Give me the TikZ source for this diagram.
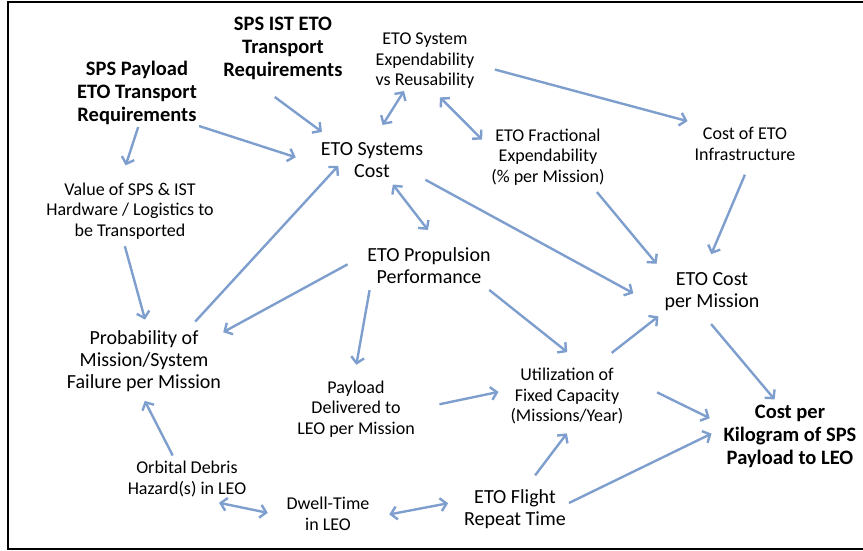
\documentclass[tikz,border=0pt]{standalone}
\usepackage{fontspec}
\setmainfont{Carlito}
\usetikzlibrary{arrows.meta}
\definecolor{linkblue}{RGB}{126,158,206}
\tikzset{
  factor/.style={align=center, inner sep=2pt, font=\fontsize{20}{22}\selectfont},
  minor/.style={align=center, inner sep=2pt, font=\fontsize{18}{20.5}\selectfont},
  keyreq/.style={align=center, inner sep=2pt, font=\fontsize{20.5}{23}\selectfont\bfseries},
  link/.style={draw=linkblue, line width=2.4pt, -{Straight Barb[length=6pt,width=13pt]}},
  twoway/.style={link, {Straight Barb[length=6pt,width=13pt]}-{Straight Barb[length=6pt,width=13pt]}}
}
\begin{document}
\begin{tikzpicture}[x=1pt,y=-1pt]
\useasboundingbox (0,0) rectangle (863,550);
\draw [line width=2pt] (863,2) -- (8,2) -- (8,549) -- (863,549);

\node (spspay) [keyreq] at (137,93) {SPS Payload\\ETO Transport\\Requirements};
\node (spsist) [keyreq] at (283,48) {SPS IST ETO\\Transport\\Requirements};
\node (expreuse) [minor] at (425,61) {ETO System\\Expendability\\vs Reusability};
\node (etocost) [factor] at (372,160) {ETO Systems\\Cost};
\node (fracexp) [minor] at (548,157) {ETO Fractional\\Expendability\\(\% per Mission)};
\node (infra) [minor] at (745,144) {Cost of ETO\\Infrastructure};
\node (value) [minor] at (130,211) {Value of SPS \& IST\\Hardware / Logistics to\\be Transported};
\node (propuls) [factor] at (429,266) {ETO Propulsion\\Performance};
\node (mission) [factor] at (712,292) {ETO Cost\\per Mission};
\node (failure) [factor] at (144,361) {Probability of\\Mission/System\\Failure per Mission};
\node (payload) [minor] at (356,409) {Payload\\Delivered to\\LEO per Mission};
\node (util) [minor] at (567,396) {Utilization of\\Fixed Capacity\\(Missions/Year)};
\node (costkg) [keyreq] at (790,436) {Cost per\\Kilogram of SPS\\Payload to LEO};
\node (debris) [minor] at (187,479) {Orbital Debris\\Hazard(s) in LEO};
\node (dwell) [minor] at (328,514) {Dwell-Time\\in LEO};
\node (flight) [factor] at (515,509) {ETO Flight\\Repeat Time};

\draw [link, shorten >=24pt] (spspay.-28) -- (etocost.-175);
\draw [link, shorten >=16pt] (spspay.-88) -- (value.107);
\draw [link, shorten <=26pt, shorten >=14pt] (spsist.-131) -- (etocost.153);
\draw [twoway, shorten <=18pt] (etocost.87) -- (expreuse.-125);
\draw [twoway, shorten <=9pt, shorten >=10pt] (expreuse.-74) -- (fracexp.170);
\draw [link, shorten <=19pt, shorten >=16pt] (expreuse.-4) -- (infra.156);
\draw [twoway, shorten <=6pt, shorten >=20pt] (etocost.-49) -- (propuls.61);
\draw [link, shorten >=33pt] (etocost.south east) -- (mission.-161);
\draw [link, shorten <=6pt, shorten >=9pt] (fracexp.-34) -- (mission.north west);
\draw [link, shorten <=13pt, shorten >=18pt] (infra.-75) -- (mission.110);
\draw [link, shorten <=5pt, shorten >=9pt] (value.-102) -- (failure.84);
\draw [link, shorten <=9pt, shorten >=-19pt] (failure.36) -- (etocost.-157);
\draw [link, shorten <=20pt] (propuls.170) -- (failure.20);
\draw [link, shorten <=4pt, shorten >=14pt] (propuls.-161) -- (payload.94);
\draw [link, shorten <=6pt, shorten >=22pt] (propuls.-20) -- (util.60);
\draw [link, shorten <=23pt, shorten >=10pt] (payload.east) -- (util.174);
\draw [link, shorten <=21pt, shorten >=5pt] (util.47) -- (mission.south west);
\draw [link, shorten <=35pt, shorten >=13pt] (util.18) -- (costkg.170);
\draw [link, shorten <=14pt, shorten >=4pt] (mission.-115) -- (costkg.111);
\draw [link, shorten <=4pt, shorten >=8pt] (debris.122) -- (failure.-95);
\draw [twoway, shorten <=19pt, shorten >=17pt] (debris.-56) -- (dwell.-177);
\draw [twoway, shorten <=18pt, shorten >=14pt] (dwell.-5) -- (flight.171);
\draw [link, shorten <=15pt, shorten >=9pt] (flight.63) -- (util.-80);
\draw [link, shorten <=1pt, shorten >=11pt] (flight.6) -- (costkg.174);
\end{tikzpicture}
\end{document}
